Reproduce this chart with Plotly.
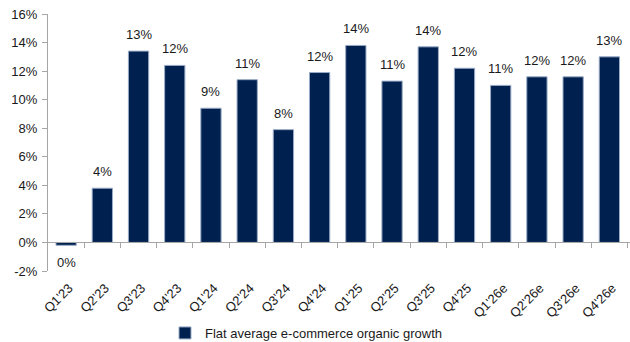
import plotly.graph_objects as go

quarters = ["Q1'23", "Q2'23", "Q3'23", "Q4'23", "Q1'24", "Q2'24", "Q3'24", "Q4'24",
            "Q1'25", "Q2'25", "Q3'25", "Q4'25", "Q1'26e", "Q2'26e", "Q3'26e", "Q4'26e"]
growth_pct = [-0.2, 3.8, 13.4, 12.4, 9.4, 11.4, 7.9, 11.9,
              13.8, 11.3, 13.7, 12.2, 11.0, 11.6, 11.6, 13.0]
y_ticks = [-2, 0, 2, 4, 6, 8, 10, 12, 14, 16]
series_name = "Flat average e-commerce organic growth"

navy = "#002150"
axis_grey = "#a6a6a6"
text_color = "#1a1a1a"
font_family = "Liberation Sans, Arial, sans-serif"

labels = [f"{abs(round(v)):.0f}%" for v in growth_pct]
y_tick_text = [f"{v}%" for v in y_ticks]
n = len(quarters)

fig = go.Figure()
fig.add_trace(go.Bar(
    x=list(range(n)),
    y=growth_pct,
    name=series_name,
    marker=dict(color=navy, line=dict(color="#9aabc6", width=1)),
    showlegend=True,
    hoverinfo="x+y",
))

# value labels sitting a little above (or below, for negatives) each bar
for i, (v, lab) in enumerate(zip(growth_pct, labels)):
    fig.add_annotation(
        x=i, y=v, text=lab, showarrow=False,
        yanchor="bottom" if v >= 0 else "top",
        yshift=7 if v >= 0 else -8,
        font=dict(size=13, color=text_color, family=font_family),
    )

fig.update_layout(
    width=630, height=342,
    margin=dict(l=48, r=0, t=14, b=71),
    paper_bgcolor="white", plot_bgcolor="white",
    bargap=0.44,
    font=dict(family=font_family, size=13, color=text_color),
    xaxis=dict(
        range=[-0.5, n - 0.43],
        tickmode="array",
        tickvals=list(range(n)),
        ticktext=quarters,
        tickangle=-45,
        ticklabelstandoff=6,
        ticklabelshift=3,
        automargin=False,
        showline=False, ticks="", showgrid=False, zeroline=False,
        tickfont=dict(size=13),
    ),
    xaxis2=dict(
        overlaying="x",
        matches="x",
        anchor="free",
        position=2 / 18,
        side="bottom",
        tickmode="array",
        tickvals=[i + 0.5 for i in range(n)],
        showticklabels=False,
        automargin=False,
        showline=True, linecolor=axis_grey, linewidth=1,
        ticks="outside", ticklen=5, tickcolor=axis_grey,
        showgrid=False, zeroline=False,
    ),
    yaxis=dict(
        range=[-2, 16],
        tickmode="array",
        tickvals=y_ticks,
        ticktext=y_tick_text,
        ticklabelstandoff=2,
        automargin=False,
        showline=True, linecolor=axis_grey, linewidth=1,
        ticks="outside", ticklen=5, tickcolor=axis_grey,
        showgrid=False, zeroline=False,
        tickfont=dict(size=13),
    ),
    legend=dict(
        orientation="h",
        x=165 / 630, xanchor="left", xref="container",
        y=9 / 342, yanchor="middle", yref="container",
        font=dict(size=13),
        itemwidth=30,
    ),
)

# invisible helper trace so the boundary-tick axis is rendered
fig.add_trace(go.Scatter(x=[0], y=[0], xaxis="x2", mode="markers",
                         marker=dict(opacity=0), showlegend=False, hoverinfo="skip"))

fig.write_html("out.html")
